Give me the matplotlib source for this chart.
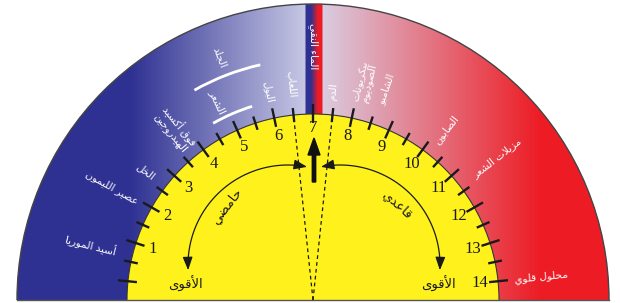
import numpy as np
import matplotlib
matplotlib.use('Agg')
import matplotlib.pyplot as plt
from matplotlib.patches import Wedge, Arc, FancyArrowPatch
from matplotlib.path import Path

# pH scale data
ph_numbers = list(range(1, 15))
tick_values = np.arange(0, 14.5, 0.5)

substances = ['أسيد الموريا', 'عصير الليمون', 'الخل', 'فوق أكسيد\nالهيدروجين',
              'الشعر', 'الجلد', 'البول', 'اللعاب', 'الماء النقي', 'الدم',
              'بيكربونات\nالصوديوم', 'الشامبو', 'الصابون', 'مزيلات الشعر', 'محلول قلوي']
substance_ph = [0.68, 1.95, 2.63, 3.77, 4.87, 5.25, 6.0, 6.52, 7.0, 7.45,
                8.1, 8.6, 10.16, 11.34, 14.0]
hair_range = (4.55, 5.55)
skin_range = (4.55, 5.95)
neutral_band = (6.5, 7.5)

acid_text = 'حامضي'
base_text = 'قاعدي'
strong_text = 'الأقوى'

# layout (pixels, centre of semicircle at origin)
R_OUT, R_IN = 296, 186
DEG_PER_PH = 12.03
label_r = [203, 201, 201, 196, 207, 249, 202, 203, 231, 200, 203, 207, 199, 203, 202]


def ang(ph):
    return 90 - (ph - 7) * DEG_PER_PH


# --- minimal Arabic shaping (presentation forms) since matplotlib has no bidi ---
FORMS = {'ء': (0xFE80, 1), 'آ': (0xFE81, 2), 'أ': (0xFE83, 2), 'ؤ': (0xFE85, 2),
         'إ': (0xFE87, 2), 'ئ': (0xFE89, 4), 'ا': (0xFE8D, 2), 'ب': (0xFE8F, 4),
         'ة': (0xFE93, 2), 'ت': (0xFE95, 4), 'ث': (0xFE99, 4), 'ج': (0xFE9D, 4),
         'ح': (0xFEA1, 4), 'خ': (0xFEA5, 4), 'د': (0xFEA9, 2), 'ذ': (0xFEAB, 2),
         'ر': (0xFEAD, 2), 'ز': (0xFEAF, 2), 'س': (0xFEB1, 4), 'ش': (0xFEB5, 4),
         'ص': (0xFEB9, 4), 'ض': (0xFEBD, 4), 'ط': (0xFEC1, 4), 'ظ': (0xFEC5, 4),
         'ع': (0xFEC9, 4), 'غ': (0xFECD, 4), 'ف': (0xFED1, 4), 'ق': (0xFED5, 4),
         'ك': (0xFED9, 4), 'ل': (0xFEDD, 4), 'م': (0xFEE1, 4), 'ن': (0xFEE5, 4),
         'ه': (0xFEE9, 4), 'و': (0xFEED, 2), 'ى': (0xFEEF, 2), 'ي': (0xFEF1, 4)}
LAMALEF = {'آ': 0xFEF5, 'أ': 0xFEF7, 'إ': 0xFEF9, 'ا': 0xFEFB}


def shape_line(s):
    toks = []
    i = 0
    while i < len(s):
        if s[i] == 'ل' and i + 1 < len(s) and s[i + 1] in LAMALEF:
            toks.append(('LA', s[i + 1]))
            i += 2
        else:
            toks.append((s[i], None))
            i += 1

    def nf(t):
        return 2 if t[0] == 'LA' else FORMS.get(t[0], (0, 0))[1]

    out = []
    for k, t in enumerate(toks):
        n = nf(t)
        jp = k > 0 and nf(toks[k - 1]) == 4 and n >= 2
        jn = n == 4 and k + 1 < len(toks) and nf(toks[k + 1]) >= 2
        if t[0] == 'LA':
            out.append(chr(LAMALEF[t[1]] + (1 if jp else 0)))
        elif n == 0:
            out.append(t[0])
        else:
            form = 3 if (jp and jn) else 1 if jp else 2 if jn else 0
            out.append(chr(FORMS[t[0]][0] + form))
    return ''.join(reversed(out))


def ar(s):
    return '\n'.join(shape_line(l) for l in s.split('\n'))


fig = plt.figure(figsize=(6.2, 3.03), dpi=100)
ax = fig.add_axes([0, 0, 1, 1])
ax.set_xlim(-313, 307)
ax.set_ylim(-3, 300)
ax.axis('off')

# outer ring gradient (left->right)
navy = (46, 49, 146)
red = (237, 28, 36)
stops_x = [0, 130, 305, 306, 311, 318, 322, 323, 540, 620]
stops_c = np.array([navy, navy, (198, 198, 228), navy, navy, red, red,
                    (218, 204, 224), red, red]) / 255.0
px = np.arange(620) + 0.5
img = np.zeros((1, 620, 3))
for ch in range(3):
    img[0, :, ch] = np.interp(px, stops_x, stops_c[:, ch])
ring = Wedge((0, 0), R_OUT, 0, 180, width=R_OUT - R_IN, fc='none', ec='none')
ax.add_patch(ring)
im = ax.imshow(img, extent=(-313, 307, 0, 300), aspect='auto', interpolation='nearest')
im.set_clip_path(ring)

ax.add_patch(Wedge((0, 0), R_IN, 0, 180, fc='#fff21c', ec='none'))
ax.add_patch(Arc((0, 0), 2 * R_OUT, 2 * R_OUT, theta1=0, theta2=180, color='#444444', lw=1))
ax.add_patch(Arc((0, 0), 2 * R_IN, 2 * R_IN, theta1=0, theta2=180, color='#333333', lw=0.8))
ax.plot([-R_OUT, R_OUT], [0.3, 0.3], color='#555555', lw=1)

# ticks
for v in tick_values:
    t = np.radians(ang(v))
    r0, r1 = (R_IN - 9, R_IN + 10) if v == int(v) else (R_IN - 7, R_IN + 7)
    ax.plot([r0 * np.cos(t), r1 * np.cos(t)], [r0 * np.sin(t), r1 * np.sin(t)],
            color='#1a1a1a', lw=1.7, solid_capstyle='butt')

# numbers
for n in ph_numbers:
    t = np.radians(ang(n))
    r = 172 if n == 7 else 168
    ax.text(r * np.cos(t), r * np.sin(t), str(n), ha='center', va='center',
            fontsize=12, family='Liberation Serif', color='#1a1a1a')

# neutral dashed lines
for v in neutral_band:
    t = np.radians(ang(v))
    ax.plot([0, (R_IN - 2) * np.cos(t)], [0, (R_IN - 2) * np.sin(t)],
            color='#1a1a1a', lw=0.9, dashes=(3, 2.5))

# substance labels
for name, ph, r in zip(substances, substance_ph, label_r):
    a = ang(ph)
    t = np.radians(a)
    if a > 90.5 or abs(a - 90) < 0.5:
        rot, ha = a - 180, 'right'
    else:
        rot, ha = a, 'left'
    ax.text(r * np.cos(t), r * np.sin(t), ar(name), rotation=rot, rotation_mode='anchor',
            ha=ha, va='center', fontsize=7.5, color='white', family='DejaVu Sans',
            linespacing=1.0, multialignment='center')

# hair / skin range arcs
ax.add_patch(Arc((0, 0), 2 * 203, 2 * 203, theta1=ang(hair_range[1]), theta2=ang(hair_range[0]),
                 color='white', lw=2))
ax.add_patch(Arc((0, 0), 2 * 241, 2 * 241, theta1=ang(skin_range[1]), theta2=ang(skin_range[0]),
                 color='white', lw=2))

# curved arrows (acidic / basic)
for cx, t0, t1 in [(-25, 79, 183), (27, 101, -3)]:
    th = np.radians(np.linspace(t0, t1, 60))
    verts = np.column_stack([cx + 100 * np.cos(th), 35 + 100 * np.sin(th)])
    arr = FancyArrowPatch(path=Path(verts), arrowstyle='<|-|>,head_length=0.8,head_width=0.3',
                          mutation_scale=10, color='#1a1a1a', lw=0.9, shrinkA=0, shrinkB=0)
    ax.add_patch(arr)

ax.text(-86, 94, ar(acid_text), rotation=52, ha='center', va='center', fontsize=9.5,
        color='#1a1a1a', family='DejaVu Sans')
ax.text(84, 95, ar(base_text), rotation=-42, ha='center', va='center', fontsize=9.5,
        color='#1a1a1a', family='DejaVu Sans')
ax.text(-128, 16, ar(strong_text), ha='center', va='center', fontsize=9.5,
        color='#1a1a1a', family='DejaVu Sans')
ax.text(125, 16, ar(strong_text), ha='center', va='center', fontsize=9.5,
        color='#1a1a1a', family='DejaVu Sans')

# central arrow at pH 7
ax.arrow(1, 118, 0, 44, width=3.4, head_width=12, head_length=17,
         length_includes_head=True, color='#111111')

fig.savefig('out.png', dpi=100)
